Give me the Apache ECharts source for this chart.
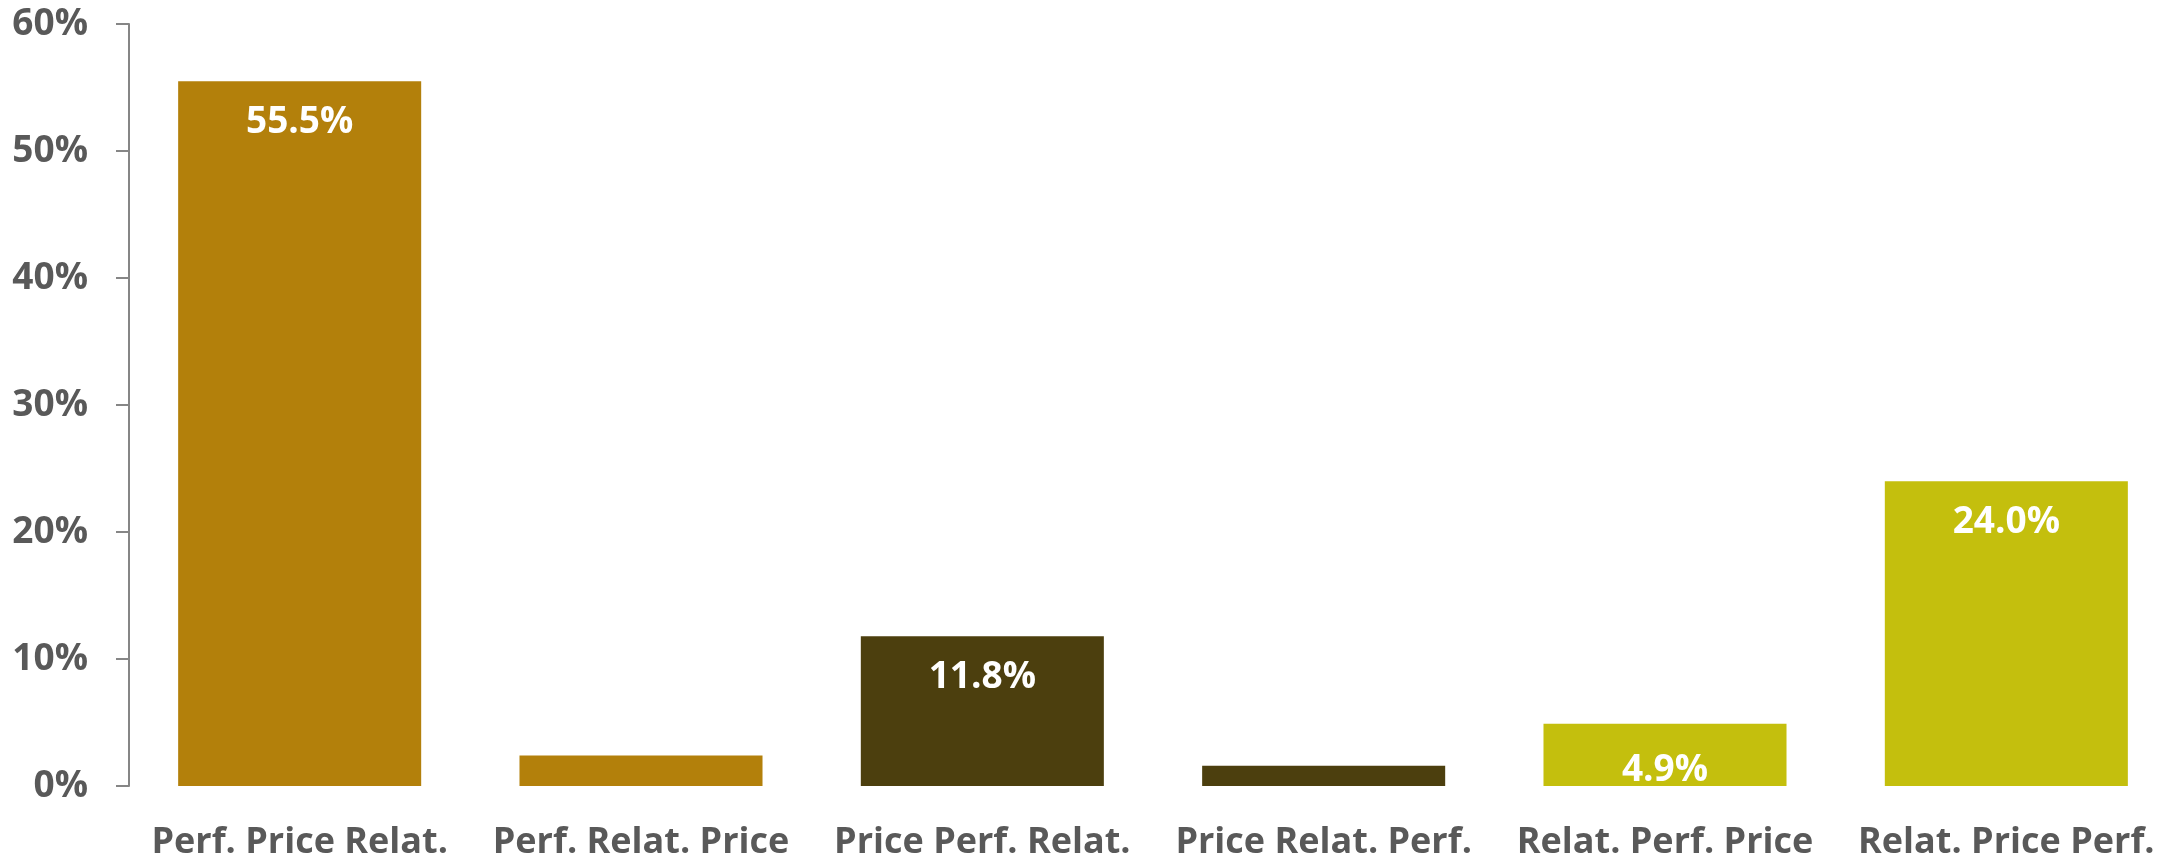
<!DOCTYPE html>
<html>
<head>
<meta charset="utf-8">
<script src="https://cdn.jsdelivr.net/npm/echarts@6/dist/echarts.min.js"></script>
<style>
  html, body { margin: 0; padding: 0; background: #ffffff; }
  #chart { width: 2180px; height: 861px; }
</style>
</head>
<body>
<div id="chart"></div>
<script>
// Share of respondents by attribute ordering
const categories = [
  'Perf. Price Relat.',
  'Perf. Relat. Price',
  'Price Perf. Relat.',
  'Price Relat. Perf.',
  'Relat. Perf. Price',
  'Relat. Price Perf.'
];
const shares = [55.5, 2.4, 11.8, 1.6, 4.9, 24.0];
// which bars carry a value label
const labelled = [true, false, true, false, true, true];
const barColors = ['#B3800B', '#B3800B', '#4C3F0E', '#4C3F0E', '#C4BF0D', '#C4BF0D'];
const yTicks = [0, 10, 20, 30, 40, 50, 60];

const FONT = '"Open Sans", "Noto Sans", sans-serif';

const seriesData = shares.map((v, i) => ({
  value: v,
  itemStyle: { color: barColors[i] },
  label: {
    show: labelled[i],
    // short bar: keep the label inside, close to the base
    distance: v < 8 ? 28 : 23
  }
}));

const chart = echarts.init(document.getElementById('chart'), null, { renderer: 'canvas' });
chart.setOption({
  animation: false,
  backgroundColor: '#ffffff',
  grid: { left: 129, right: 3, top: 24, bottom: 74, containLabel: false },
  xAxis: {
    type: 'category',
    data: categories,
    axisLine: { show: false },
    axisTick: { show: false },
    axisLabel: {
      color: '#595959',
      fontFamily: FONT,
      fontWeight: 'bold',
      fontSize: 36,
      margin: 39,
      interval: 0
    }
  },
  yAxis: {
    type: 'value',
    min: yTicks[0],
    max: yTicks[yTicks.length - 1],
    interval: 10,
    splitLine: { show: false },
    axisLine: { show: true, lineStyle: { color: '#868686', width: 2 } },
    axisTick: { show: true, length: 13, lineStyle: { color: '#868686', width: 2 } },
    axisLabel: {
      color: '#595959',
      fontFamily: FONT,
      fontWeight: 'bold',
      fontSize: 37,
      margin: 41,
      formatter: '{value}%'
    }
  },
  series: [{
    type: 'bar',
    data: seriesData,
    barCategoryGap: '28.8%',
    label: {
      position: 'insideTop',
      color: '#ffffff',
      fontFamily: FONT,
      fontWeight: 'bold',
      fontSize: 37,
      formatter: p => p.value.toFixed(1) + '%'
    }
  }]
});
</script>
</body>
</html>
